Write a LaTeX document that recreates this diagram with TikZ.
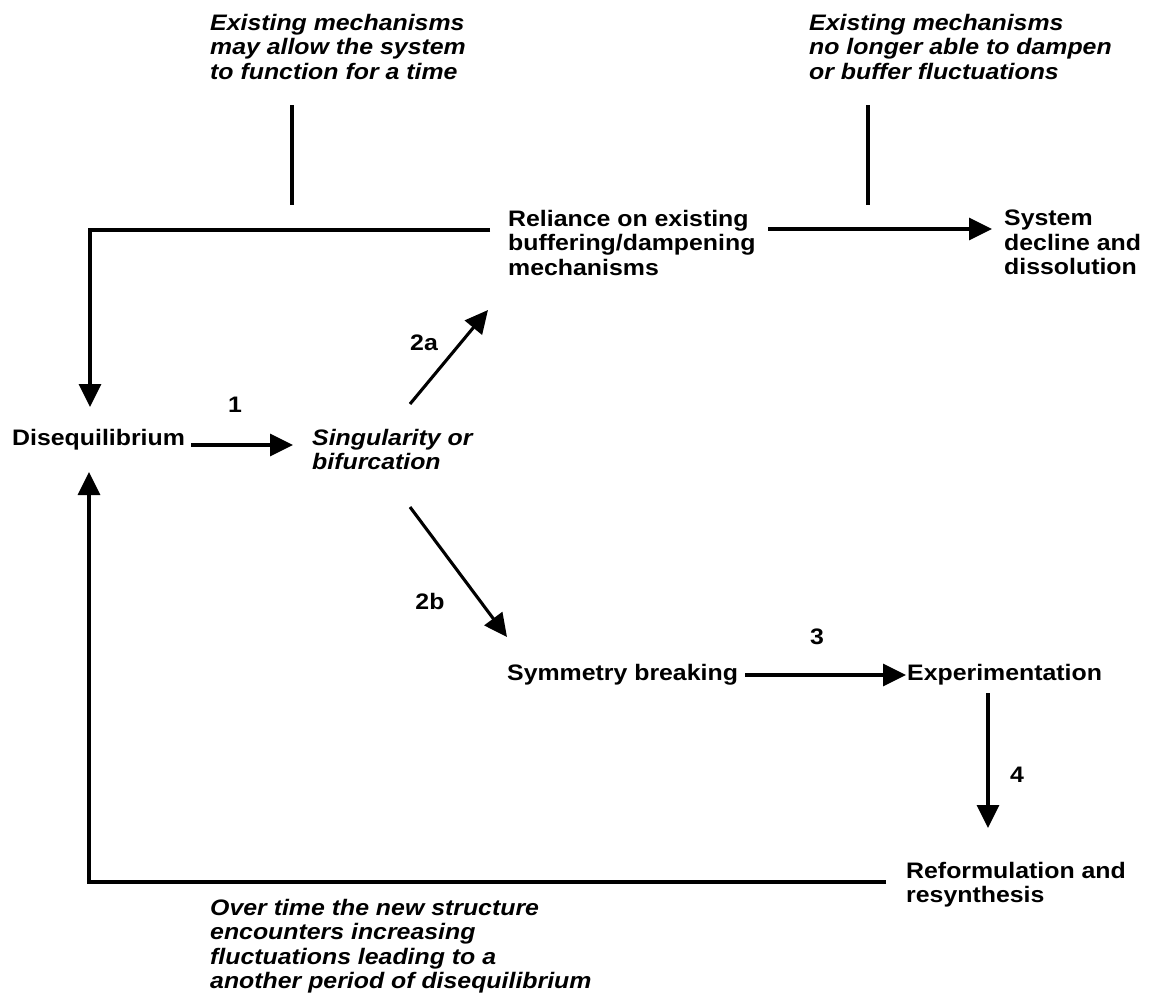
\documentclass[tikz,border=0pt]{standalone}
\usepackage{fontspec}
\setmainfont{Liberation Sans}[UprightFont=* Bold, ItalicFont=* Bold Italic,
  BoldFont=* Bold, FakeStretch=1.11]
\usetikzlibrary{arrows.meta}
\begin{document}
\begin{tikzpicture}[x=1pt,y=-1pt,
  txt/.style={inner sep=0pt, anchor=north west, align=left,
              font=\fontsize{22.4}{24.5}\selectfont},
  note/.style={txt, font=\fontsize{22.4}{24.5}\selectfont\itshape},
  lbl/.style={inner sep=0pt, font=\fontsize{22.4}{24.5}\selectfont},
  ln/.style={line width=3.1pt},
  arr/.style={ln, -{Triangle[length=23pt,width=22pt]}}]
\useasboundingbox (0,0) rectangle (1157,1007);

% annotations
\node[note] (noteA) at (210,14) {Existing mechanisms\\may allow the system\\to function for a time};
\node[note] (noteB) at (809,14) {Existing mechanisms\\no longer able to dampen\\or buffer fluctuations};
\node[note] (noteC) at (210,899) {Over time the new structure\\encounters increasing\\fluctuations leading to a\\another period of disequilibrium};

% stages
\node[txt]  (dis) at (12,429)  {Disequilibrium};
\node[note] (sing) at (312,429) {Singularity or\\bifurcation};
\node[txt]  (rel) at (508,210) {Reliance on existing\\buffering/dampening\\mechanisms};
\node[txt]  (sys) at (1004,210) {System\\decline and\\dissolution};
\node[txt]  (sym) at (507,664) {Symmetry breaking};
\node[txt]  (exp) at (907,664) {Experimentation};
\node[txt]  (ref) at (906,862) {Reformulation and\\resynthesis};

% step numbers
\node[lbl] (n1)  at (235,405) {1};
\node[lbl] (n2a) at (424,343) {2a};
\node[lbl] (n2b) at (430,601) {2b};
\node[lbl] (n3)  at (817,637) {3};
\node[lbl] (n4)  at (1017,775) {4};

% connector end points
\coordinate (tickA) at (292,105);
\coordinate (tickAb) at (292,205);
\coordinate (tickB) at (868,105);
\coordinate (tickBb) at (868,205);
\coordinate (relL) at (490,230);
\coordinate (topL) at (90,230);
\coordinate (disN) at (90,407);
\coordinate (relR) at (768,229);
\coordinate (sysW) at (992,229);
\coordinate (disE) at (191,445);
\coordinate (singW) at (293,445);
\coordinate (singNE) at (410,404);
\coordinate (relSW) at (488,310);
\coordinate (singSE) at (410,507);
\coordinate (symNW) at (507,637);
\coordinate (symE) at (745,675);
\coordinate (expW) at (906,675);
\coordinate (expS) at (988,693);
\coordinate (refN) at (988,828);
\coordinate (refW) at (886,882);
\coordinate (botL) at (89,882);
\coordinate (disS) at (89,472);

% connectors
\draw[ln] (tickA) -- (tickAb);
\draw[ln] (tickB) -- (tickBb);
\draw[arr] (relL) -- (topL) -- (disN);
\draw[arr] (relR) -- (sysW);
\draw[arr] (disE) -- (singW);
\draw[arr] (singNE) -- (relSW);
\draw[arr] (singSE) -- (symNW);
\draw[arr] (symE) -- (expW);
\draw[arr] (expS) -- (refN);
\draw[arr] (refW) -- (botL) -- (disS);
\end{tikzpicture}
\end{document}
